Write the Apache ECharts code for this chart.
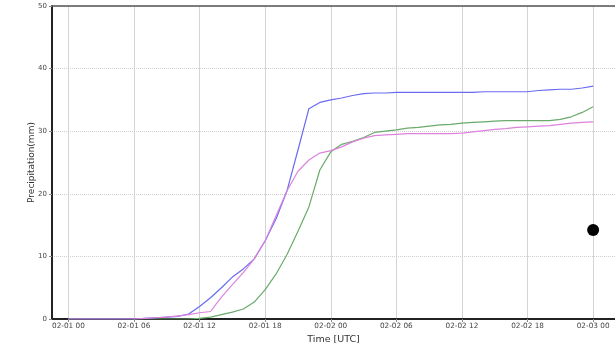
<!DOCTYPE html>
<html>
<head>
<meta charset="utf-8">
<script src="https://cdn.jsdelivr.net/npm/echarts@6/dist/echarts.min.js"></script>
<style>html,body{margin:0;padding:0;background:#fff;}#c{width:615px;height:354px;}</style>
</head>
<body>
<div id="c"></div>
<script>
// hours since 02-01 00 UTC
const hours = [0,1,2,3,4,5,6,7,8,9,10,11,12,13,14,15,16,17,18,19,20,21,22,23,24,25,26,27,28,29,30,31,32,33,34,35,36,37,38,39,40,41,42,43,44,45,46,47,48];
const blueSeries = [0,0,0,0,0,0,0,0.1,0.2,0.3,0.4,0.8,2.0,3.4,5.0,6.7,8.0,9.6,12.5,16.0,20.5,27.0,33.6,34.6,35.0,35.3,35.7,36.0,36.1,36.1,36.2,36.2,36.2,36.2,36.2,36.2,36.2,36.2,36.3,36.3,36.3,36.3,36.3,36.5,36.6,36.7,36.7,36.9,37.2];
const pinkSeries = [0,0,0,0,0,0,0,0.1,0.2,0.3,0.5,0.7,1.0,1.2,3.5,5.5,7.4,9.6,12.5,16.5,20.5,23.6,25.4,26.5,26.9,27.5,28.3,28.9,29.3,29.4,29.5,29.6,29.6,29.6,29.6,29.6,29.7,29.9,30.1,30.3,30.4,30.6,30.7,30.8,30.9,31.1,31.3,31.4,31.5];
const greenSeries = [0,0,0,0,0,0,0,0,0,0,0,0,0.1,0.3,0.7,1.1,1.6,2.7,4.7,7.2,10.3,14.0,17.9,23.8,26.7,27.9,28.4,29.0,29.8,30.0,30.2,30.5,30.6,30.8,31.0,31.1,31.3,31.4,31.5,31.6,31.7,31.7,31.7,31.7,31.7,31.9,32.3,33.0,33.9];
const observed = [[48, 14.2]];
const xTicks = [0,6,12,18,24,30,36,42,48];

function pair(arr){ return hours.map((h,i)=>[h,arr[i]]); }
function fmt(h){
  const day = 1 + Math.floor(h/24);
  const hr = h % 24;
  return '02-0' + day + ' ' + (hr<10?'0':'') + hr;
}

const chart = echarts.init(document.getElementById('c'), null, {renderer:'canvas'});
chart.setOption({
  animation:false,
  grid:{left:52, top:6, right:0, bottom:35},
  xAxis:[{
    type:'value', min:-1.5, max:50,
    name:'Time [UTC]', nameLocation:'middle', nameGap:15,
    nameTextStyle:{fontFamily:'DejaVu Sans', fontSize:9.5, color:'#333'},
    axisLine:{onZero:false, lineStyle:{color:'#222', width:2}},
    axisTick:{show:true, length:3, customValues:xTicks, lineStyle:{color:'#888'}},
    axisLabel:{customValues:xTicks, formatter:fmt, fontFamily:'DejaVu Sans', fontSize:7.3, color:'#444', margin:4},
    splitLine:{show:true, lineStyle:{color:'#d4d4d4', width:1}}
  },{
    type:'value', position:'top', min:-1.5, max:50,
    axisLine:{show:true, onZero:false, lineStyle:{color:'#555', width:1.5}},
    axisTick:{show:false}, axisLabel:{show:false}, splitLine:{show:false}
  }],
  yAxis:{
    type:'value', min:0, max:50, interval:10,
    name:'Precipitation(mm)', nameLocation:'middle', nameGap:16, nameRotate:90,
    nameMoveOverlap:false,
    nameTextStyle:{fontFamily:'DejaVu Sans', fontSize:9, color:'#333'},
    axisLine:{show:true, onZero:false, lineStyle:{color:'#222', width:2}},
    axisTick:{show:true, length:3, lineStyle:{color:'#888'}},
    axisLabel:{fontFamily:'DejaVu Sans', fontSize:7, color:'#444', margin:5},
    splitLine:{show:true, lineStyle:{color:'#cfcfcf', width:1, type:[1,1]}}
  },
  series:[
    {type:'line', data:pair(greenSeries), showSymbol:false, lineStyle:{color:'#6aaa6a', width:1.2}, z:2},
    {type:'line', data:pair(blueSeries), showSymbol:false, lineStyle:{color:'#6a6af2', width:1.2}, z:3},
    {type:'line', data:pair(pinkSeries), showSymbol:false, lineStyle:{color:'#dd82dd', width:1.2}, z:4},
    {type:'scatter', data:observed, symbolSize:12, itemStyle:{color:'#000', opacity:1}, z:5}
  ]
});
</script>
</body>
</html>
